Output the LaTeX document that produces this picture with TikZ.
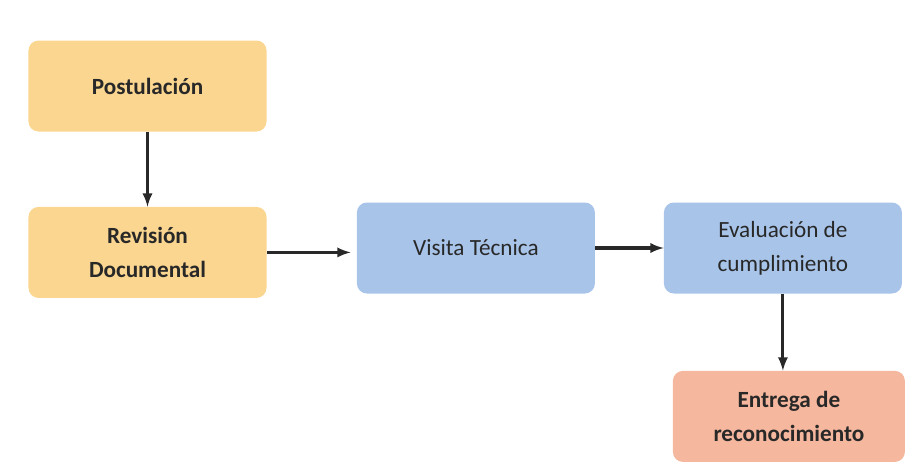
\documentclass[tikz,border=0pt]{standalone}
\usepackage{fontspec}
\setmainfont{Carlito}
\usetikzlibrary{positioning}

\definecolor{orange1}{RGB}{250,214,144}
\definecolor{blue1}{RGB}{168,196,233}
\definecolor{salmon1}{RGB}{245,183,158}
\definecolor{text1}{RGB}{40,40,40}

\tikzstyle{block} = [rectangle, text centered, align=center, minimum width=5.95cm, minimum height=2.275cm, rounded corners=0.25cm, text=text1, font=\fontsize{16.5}{24}\selectfont]
\tikzstyle{blockOrange} = [block, fill=orange1, font=\fontsize{16.5}{24}\selectfont\bfseries]
\tikzstyle{blockBlue} = [block, fill=blue1]
\tikzstyle{blockSalmon} = [block, fill=salmon1, minimum width=5.8cm, font=\fontsize{16.5}{24}\selectfont\bfseries]
\tikzstyle{arrow} = [draw, -latex, line width=2.2pt, color=text1]

\begin{document}
\begin{tikzpicture}[node distance=4.16cm, auto]
  \useasboundingbox (-3.6875,2.15) rectangle (19.0875,-9.675);

  \node [blockOrange] (postulacion) {Postulación};
  \node [blockOrange, below of=postulacion] (revision) {Revisión\\Documental};
  \node [blockBlue, right of=revision, node distance=8.21cm, yshift=0.11cm] (visita) {Visita Técnica};
  \node [blockBlue, right of=visita, node distance=7.675cm] (evaluacion) {Evaluación de\\cumplimiento};
  \node [blockSalmon, below of=evaluacion, xshift=0.15cm, node distance=4.21cm] (entrega) {Entrega de\\reconocimiento};

  \draw [arrow] (postulacion.south) -- (revision.north);
  \draw [arrow] (revision.east) -- ([yshift=-0.11cm, xshift=-0.15cm]visita.west);
  \draw [arrow] (visita.east) -- (evaluacion.west);
  \draw [arrow] (evaluacion.south) -- (evaluacion.south |- entrega.north);
\end{tikzpicture}
\end{document}
